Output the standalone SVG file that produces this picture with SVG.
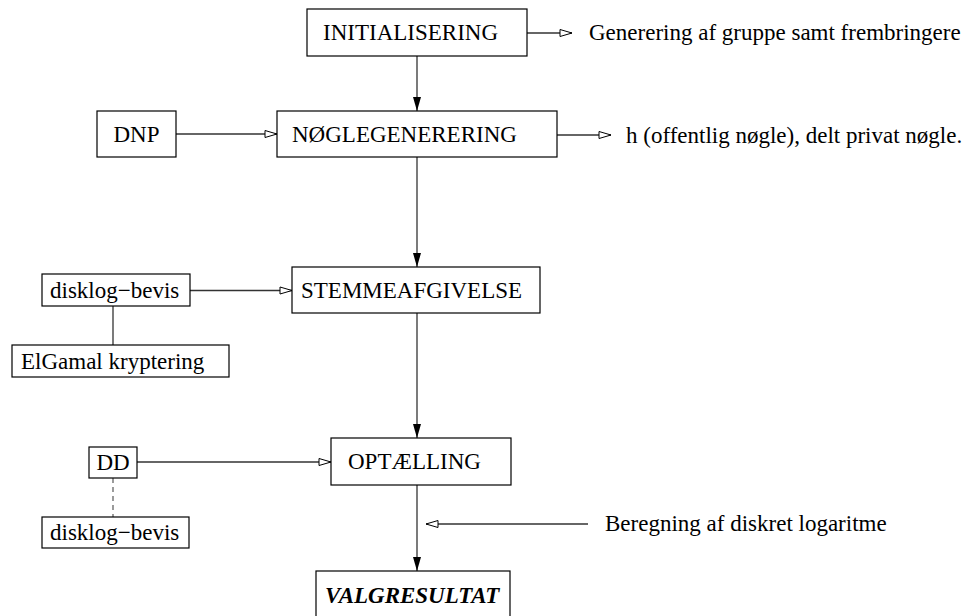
<svg xmlns="http://www.w3.org/2000/svg" width="968" height="616" viewBox="0 0 968 616">
<style>
.box{fill:#fff;stroke:#000;stroke-width:1.2}
.t{font-family:"Liberation Serif","Times New Roman",serif;font-size:23px;fill:#000}
.bi{font-weight:bold;font-style:italic}
.c{stroke:#333;stroke-width:1.3;fill:none}
.open{marker-end:url(#oh)}
.fill{marker-end:url(#fh)}
.dash{stroke-dasharray:5 4;stroke:#666}
</style>
<defs>
<marker id="oh" markerUnits="userSpaceOnUse" markerWidth="15" markerHeight="10" refX="13" refY="4.5" orient="auto" viewBox="0 0 15 9">
<path d="M1,1 L13,4.5 L1,8 z" fill="#fff" stroke="#000" stroke-width="1"/>
</marker>
<marker id="fh" markerUnits="userSpaceOnUse" markerWidth="15" markerHeight="10" refX="14" refY="4.5" orient="auto" viewBox="0 0 15 9">
<path d="M0,0.5 L14,4.5 L0,8.5 z" fill="#000"/>
</marker>
</defs>
<rect width="968" height="616" fill="#fff"/>
<g id="connectors">
<line class="c fill" x1="417" y1="56" x2="417" y2="111"/>
<line class="c fill" x1="417" y1="157" x2="417" y2="267"/>
<line class="c fill" x1="417" y1="313" x2="417" y2="438"/>
<line class="c fill" x1="417" y1="485" x2="417" y2="571"/>
<line class="c open" x1="527" y1="33" x2="572" y2="33"/>
<line class="c open" x1="557" y1="135" x2="611" y2="135"/>
<line class="c open" x1="176" y1="134" x2="277" y2="134"/>
<line class="c open" x1="190" y1="290.5" x2="292" y2="290.5"/>
<line class="c open" x1="137" y1="462" x2="331" y2="462"/>
<line class="c open" x1="588" y1="524" x2="426" y2="524"/>
<line class="c" x1="113" y1="306" x2="113" y2="345"/>
<line class="c dash" x1="113" y1="478" x2="113" y2="517"/>
</g>
<g id="initialisering">
<rect class="box" x="307" y="9" width="220" height="47"/>
<text class="t" x="323" y="40">INITIALISERING</text>
</g>
<g id="generering-label">
<text class="t" x="589" y="40">Generering af gruppe samt frembringere</text>
</g>
<g id="dnp">
<rect class="box" x="97" y="111" width="79" height="46"/>
<text class="t" x="136.5" y="142" text-anchor="middle">DNP</text>
</g>
<g id="noeglegenerering">
<rect class="box" x="277" y="111" width="280" height="46"/>
<text class="t" x="292" y="142">NØGLEGENERERING</text>
</g>
<g id="h-label">
<text class="t" x="626" y="142.5">h (offentlig nøgle), delt privat nøgle.</text>
</g>
<g id="disklog-bevis-1">
<rect class="box" x="42" y="274" width="148" height="32"/>
<text class="t" x="50" y="298">disklog−bevis</text>
</g>
<g id="elgamal">
<rect class="box" x="12" y="345" width="217" height="32"/>
<text class="t" x="21" y="369">ElGamal kryptering</text>
</g>
<g id="stemmeafgivelse">
<rect class="box" x="292" y="267" width="248" height="46"/>
<text class="t" x="301" y="298">STEMMEAFGIVELSE</text>
</g>
<g id="dd">
<rect class="box" x="89" y="447" width="48" height="31"/>
<text class="t" x="113" y="470" text-anchor="middle">DD</text>
</g>
<g id="disklog-bevis-2">
<rect class="box" x="42" y="517" width="147" height="31"/>
<text class="t" x="50" y="540">disklog−bevis</text>
</g>
<g id="optaelling">
<rect class="box" x="331" y="438" width="180" height="47"/>
<text class="t" x="348" y="469">OPTÆLLING</text>
</g>
<g id="beregning-label">
<text class="t" x="605" y="531">Beregning af diskret logaritme</text>
</g>
<g id="valgresultat">
<rect class="box" x="316" y="571" width="194" height="60"/>
<text class="t bi" x="325" y="603">VALGRESULTAT</text>
</g>
</svg>
